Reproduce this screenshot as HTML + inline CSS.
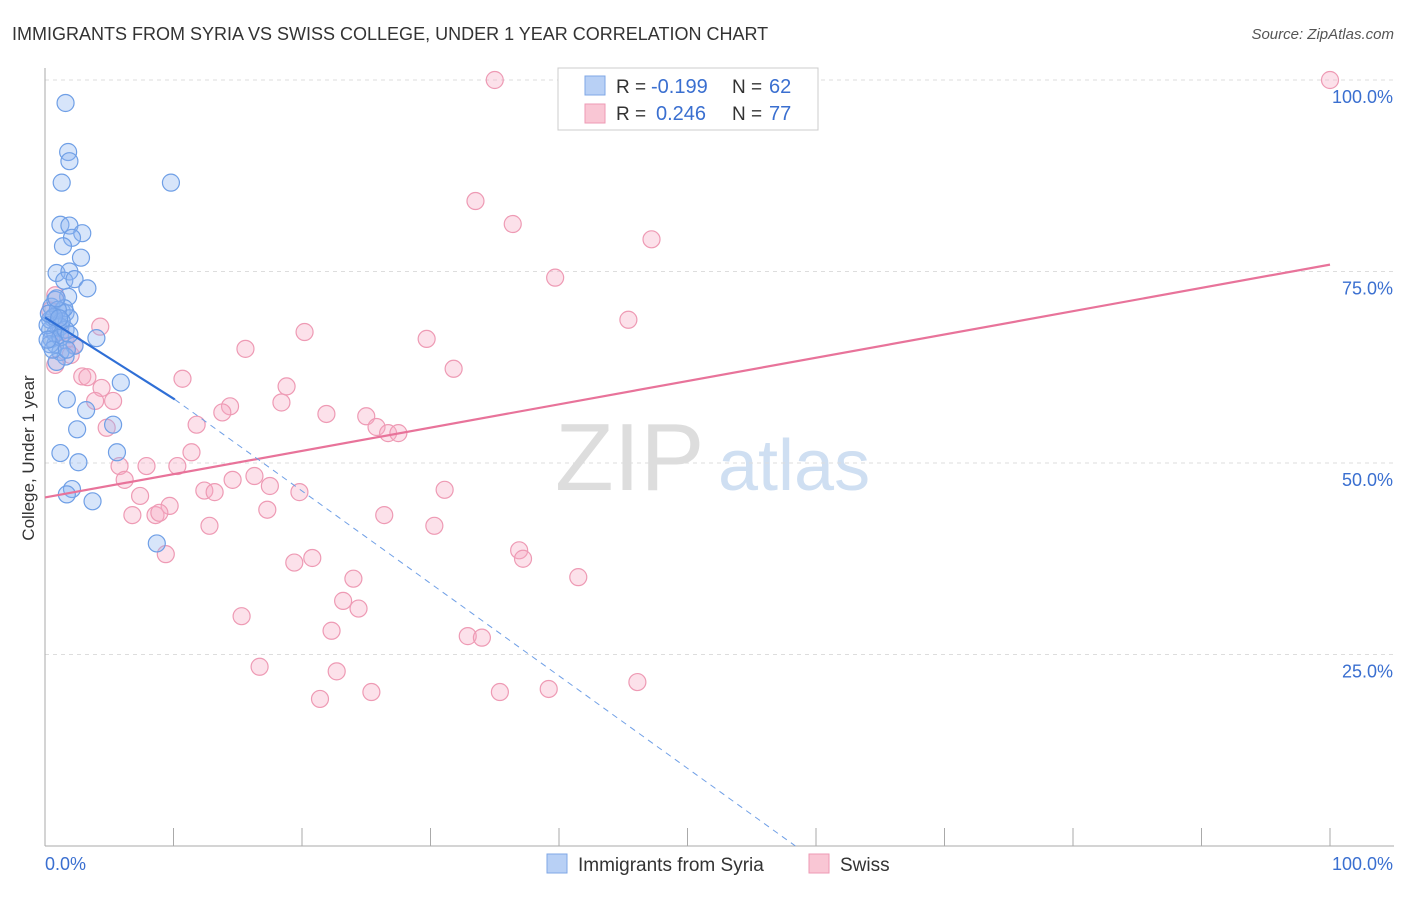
<!DOCTYPE html>
<html><head><meta charset="utf-8"><style>
body{margin:0;background:#fff;font-family:"Liberation Sans",sans-serif}
svg text{font-family:"Liberation Sans",sans-serif}
</style></head><body>
<svg id="chart" width="1406" height="892" xmlns="http://www.w3.org/2000/svg">
<text x="12" y="40" font-size="18" fill="#333">IMMIGRANTS FROM SYRIA VS SWISS COLLEGE, UNDER 1 YEAR CORRELATION CHART</text>
<text x="1394" y="39" font-size="15" fill="#555" text-anchor="end" font-style="italic">Source: ZipAtlas.com</text>
<text x="555" y="490" font-size="96" fill="#ddd" font-family="Liberation Serif">ZIP</text>
<text x="718" y="490" font-size="72" fill="#cfdff2">atlas</text>
<g id="grid"></g>
<g id="axes"></g>
<g id="marks"></g>
<text transform="translate(34,458) rotate(-90)" font-size="17" fill="#333" text-anchor="middle">College, Under 1 year</text>
<g>
<rect x="558" y="68" width="260" height="62" fill="#fff" stroke="#ccc"/>
<rect x="585" y="76" width="20" height="19" fill="#b8d0f5" stroke="#7fa7e6"/>
<rect x="585" y="104" width="20" height="19" fill="#f9c6d4" stroke="#ee9ab4"/>
<text x="616" y="93" font-size="19" fill="#333">R =</text>
<text x="651" y="93" font-size="20" fill="#3a6fd0">-0.199</text>
<text x="732" y="93" font-size="19" fill="#333">N =</text>
<text x="769" y="93" font-size="20" fill="#3a6fd0">62</text>
<text x="616" y="120" font-size="19" fill="#333">R =</text>
<text x="656" y="120" font-size="20" fill="#3a6fd0">0.246</text>
<text x="732" y="120" font-size="19" fill="#333">N =</text>
<text x="769" y="120" font-size="20" fill="#3a6fd0">77</text>
</g>
<g>
<rect x="547" y="854" width="20" height="19" fill="#b8d0f5" stroke="#7fa7e6"/>
<text x="578" y="871" font-size="19" fill="#333">Immigrants from Syria</text>
<rect x="809" y="854" width="20" height="19" fill="#f9c6d4" stroke="#ee9ab4"/>
<text x="840" y="871" font-size="19" fill="#333">Swiss</text>
</g>
</svg>
<script>
const yTicks=[25,50,75,100];
const yTickLabels=["25.0%","50.0%","75.0%","100.0%"];
const xTickLabels=["0.0%","100.0%"];
const blueX=[1.6,1.8,1.9,1.3,9.8,1.2,1.9,2.9,2.1,1.4,2.8,0.9,1.9,1.5,2.3,3.3,1.8,0.5,1.3,1.6,1.9,0.6,1.0,0.4,1.2,4.0,0.5,0.8,2.3,1.2,1.6,0.9,5.9,1.7,3.2,5.3,2.5,1.2,5.6,2.6,2.1,1.7,3.7,8.7,0.4,0.8,0.4,1.2,0.2,0.8,1.5,0.6,1.0,1.6,0.2,1.3,1.9,0.7,0.3,1.1,1.7,0.9];
const blueY=[97,90.6,89.4,86.6,86.6,81.1,81,80,79.4,78.3,76.8,74.8,75,73.8,74,72.8,71.7,70.4,69.8,69.6,68.9,68.9,68,67.4,67.8,66.3,66.2,65.5,65.3,64.5,63.9,63.2,60.5,58.3,56.9,55,54.4,51.3,51.4,50.1,46.6,45.9,45,39.5,68.7,66.9,65.5,66.4,68,71.3,70.2,64.8,70,67.4,66.1,68.5,66.8,69.1,69.5,68.9,64.8,71.5];
const pinkX=[35,100,33.5,36.4,47.2,39.7,45.4,20.2,29.7,15.6,31.8,10.7,2.9,3.3,4.4,18.8,5.3,3.9,14.4,18.4,21.9,25,13.8,11.8,4.8,25.8,26.7,27.5,11.4,5.8,7.9,10.3,14.6,6.2,16.3,17.5,12.4,13.2,19.8,31.1,7.4,9.7,6.8,8.6,8.9,17.3,26.4,12.8,30.3,36.9,37.2,9.4,20.8,19.4,41.5,24,23.2,24.4,15.3,22.3,32.9,34,16.7,22.7,46.1,25.4,35.4,39.2,21.4,0.8,0.4,1.6,2,0.8,2.3,1.2,4.3];
const pinkY=[100,100,84.2,81.2,79.2,74.2,68.7,67.1,66.2,64.9,62.3,61,61.3,61.2,59.8,60,58.1,58.1,57.4,57.9,56.4,56.1,56.6,55,54.6,54.7,53.9,53.9,51.4,49.6,49.6,49.6,47.8,47.8,48.3,47,46.4,46.2,46.2,46.5,45.7,44.4,43.2,43.2,43.5,43.9,43.2,41.8,41.8,38.6,37.5,38.1,37.6,37,35.1,34.9,32,31,30,28.1,27.4,27.2,23.4,22.8,21.4,20.1,20.1,20.5,19.2,71.9,69.9,66,64.1,62.8,65.4,67.1,67.8];
const blueTrend=[0,10.1];const blueTrendY=[69,58.3];
const blueDashEnd=[58.4,0];
const pinkTrend=[0,100];const pinkTrendY=[45.5,75.9];
const X=v=>45+v*12.85, Y=v=>846-v*7.66;
const NS="http://www.w3.org/2000/svg";
function mk(t,a,p){const e=document.createElementNS(NS,t);for(const k in a)e.setAttribute(k,a[k]);p.appendChild(e);return e;}
const grid=document.getElementById('grid'),axes=document.getElementById('axes'),marks=document.getElementById('marks');
yTicks.forEach((t,i)=>{
 const l=mk('line',{x1:45,x2:1394,y1:Y(t),y2:Y(t),stroke:'#ddd','stroke-dasharray':'4,4'},grid);
 
 
 const tx=mk('text',{x:1393,y:Y(t)+23,'font-size':18,fill:'#3a6fd0','text-anchor':'end'},axes);tx.textContent=yTickLabels[i];
 
 
});
const ax=mk('line',{x1:45,x2:45,y1:68,y2:846,stroke:'#aaa'},axes);


const bx=mk('line',{x1:45,x2:1394,y1:846,y2:846,stroke:'#aaa'},axes);


for(let i=0;i<=10;i++){const t=mk('line',{x1:X(i*10),x2:X(i*10),y1:828,y2:846,stroke:'#aaa'},axes);
 
 }
[[45,'start',0],[1393,'end',1]].forEach(([x,a,i])=>{const t=mk('text',{x:x,y:870,'font-size':18,fill:'#3a6fd0','text-anchor':a},axes);t.textContent=xTickLabels[i];
 
 });
pinkX.forEach((v,i)=>{const c=mk('circle',{cx:X(v),cy:Y(pinkY[i]),r:8.5,fill:'rgba(245,170,195,0.35)',stroke:'#ee9ab4','stroke-width':1.2},marks);
 
 });
blueX.forEach((v,i)=>{const c=mk('circle',{cx:X(v),cy:Y(blueY[i]),r:8.5,fill:'rgba(140,180,240,0.35)',stroke:'#6f9fe6','stroke-width':1.2},marks);
 
 });
const pl=mk('line',{x1:X(pinkTrend[0]),y1:Y(pinkTrendY[0]),x2:X(pinkTrend[1]),y2:Y(pinkTrendY[1]),stroke:'#e8739a','stroke-width':2.2},marks);


const bl=mk('line',{x1:X(blueTrend[0]),y1:Y(blueTrendY[0]),x2:X(blueTrend[1]),y2:Y(blueTrendY[1]),stroke:'#2f6fd6','stroke-width':2.2},marks);


const bd=mk('line',{x1:X(blueTrend[1]),y1:Y(blueTrendY[1]),x2:X(blueDashEnd[0]),y2:Y(blueDashEnd[1]),stroke:'#6f9fe6','stroke-width':1,'stroke-dasharray':'6,5'},marks);


</script>
</body></html>
